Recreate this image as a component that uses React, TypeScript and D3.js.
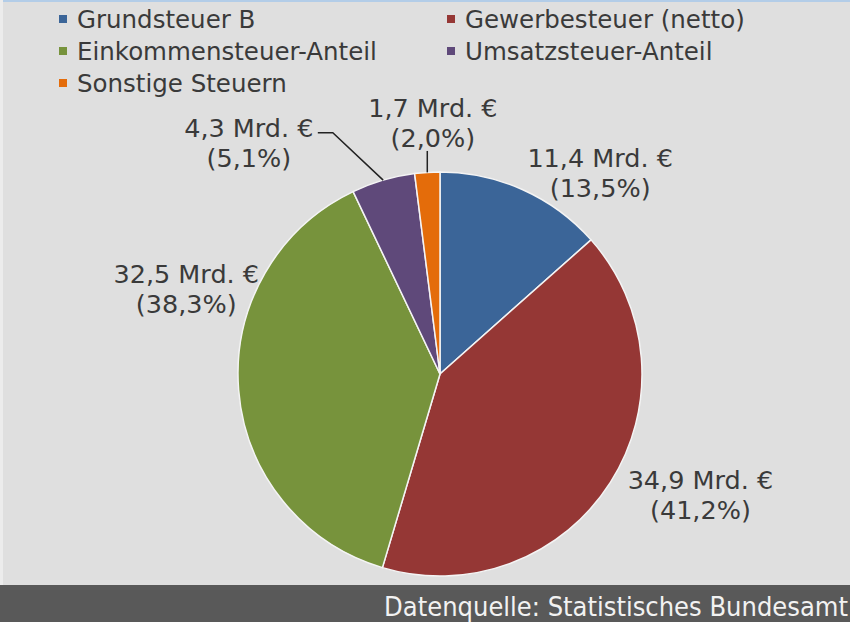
import React from "react";
import * as d3 from "d3";

const categories = [
  "Grundsteuer B",
  "Gewerbesteuer (netto)",
  "Einkommensteuer-Anteil",
  "Umsatzsteuer-Anteil",
  "Sonstige Steuern",
];
const amounts = [11.4, 34.9, 32.5, 4.3, 1.7];
const shareLabels = ["13,5%", "41,2%", "38,3%", "5,1%", "2,0%"];
const colors = ["#3b6598", "#953735", "#77933c", "#5f497a", "#e46c0a"];

// label block offsets relative to the label arc point (Excel-style placement)
const labelNudge: [number, number][] = [
  [55, 35],
  [44, -15],
  [2, -103],
  [-119, 17],
  [9, 7],
];

const W = 850;
const H = 622;
const cx = 440;
const cy = 374;
const radius = 202;
const font = "'DejaVu Sans', Verdana, sans-serif";
const textColor = "#3a3a3a";

const fmt = (v: number) => v.toFixed(1).replace(".", ",") + " Mrd. €";

export default function App() {
  const pie = d3.pie<number>().sort(null)(amounts);
  const arc = d3.arc<d3.PieArcDatum<number>>().innerRadius(0).outerRadius(radius);
  const edgeArc = d3.arc<d3.PieArcDatum<number>>().innerRadius(radius).outerRadius(radius);
  const labelArc = d3
    .arc<d3.PieArcDatum<number>>()
    .innerRadius(radius * 1.27)
    .outerRadius(radius * 1.27);

  const legendCols = [59, 447];
  const legendRow = 32;

  return (
    <svg
      width={W}
      height={H}
      style={{ position: "absolute", left: 0, top: 0 }}
      fontFamily={font}
    >
      <rect width={W} height={H} fill="#dfdfdf" />
      <rect width={W} height={2} fill="#b3cde8" />
      <rect width={3} height={H} fill="#ececec" />

      {categories.map((c, i) => {
        const x = legendCols[i % 2];
        const y = 15 + Math.floor(i / 2) * legendRow;
        return (
          <g key={c}>
            <rect x={x} y={y} width={8} height={8} fill={colors[i]} />
            <text x={x + 18} y={y + 13} fontSize={24.5} fill={textColor}>
              {c}
            </text>
          </g>
        );
      })}

      <g transform={`translate(${cx},${cy})`}>
        {pie.map((s, i) => (
          <path key={i} d={arc(s) || ""} fill={colors[i]} stroke="#f4f4f4" strokeWidth={1.5} />
        ))}
        {pie.map((s, i) => {
          const [lx, ly] = labelArc.centroid(s);
          const x = lx + labelNudge[i][0];
          const y = ly + labelNudge[i][1];
          const [ex, ey] = edgeArc.centroid(s);
          let leader = null;
          if (i === 4) {
            leader = <path d={`M${ex},${ey}V${y + 26}`} stroke="#222" strokeWidth={1.5} fill="none" />;
          } else if (i === 3) {
            const tx = x + 69;
            const ty = y - 12;
            leader = (
              <path
                d={`M${ex},${ey}L${tx + 15},${ty}H${tx}`}
                stroke="#222"
                strokeWidth={1.5}
                fill="none"
              />
            );
          }
          return (
            <g key={"l" + i}>
              {leader}
              <text textAnchor="middle" fontSize={25.5} fill={textColor}>
                <tspan x={x} y={y - 8}>
                  {fmt(amounts[i])}
                </tspan>
                <tspan x={x} y={y + 22}>
                  ({shareLabels[i]})
                </tspan>
              </text>
            </g>
          );
        })}
      </g>

      <rect x={0} y={585} width={W} height={H - 585} fill="#595959" />
      <text
        x={W - 2}
        y={616}
        textAnchor="end"
        fontSize={27}
        fill="#f2f2f2"
        fontFamily="'DejaVu Sans Condensed', 'Liberation Sans Narrow', sans-serif"
      >
        Datenquelle: Statistisches Bundesamt
      </text>
    </svg>
  );
}
